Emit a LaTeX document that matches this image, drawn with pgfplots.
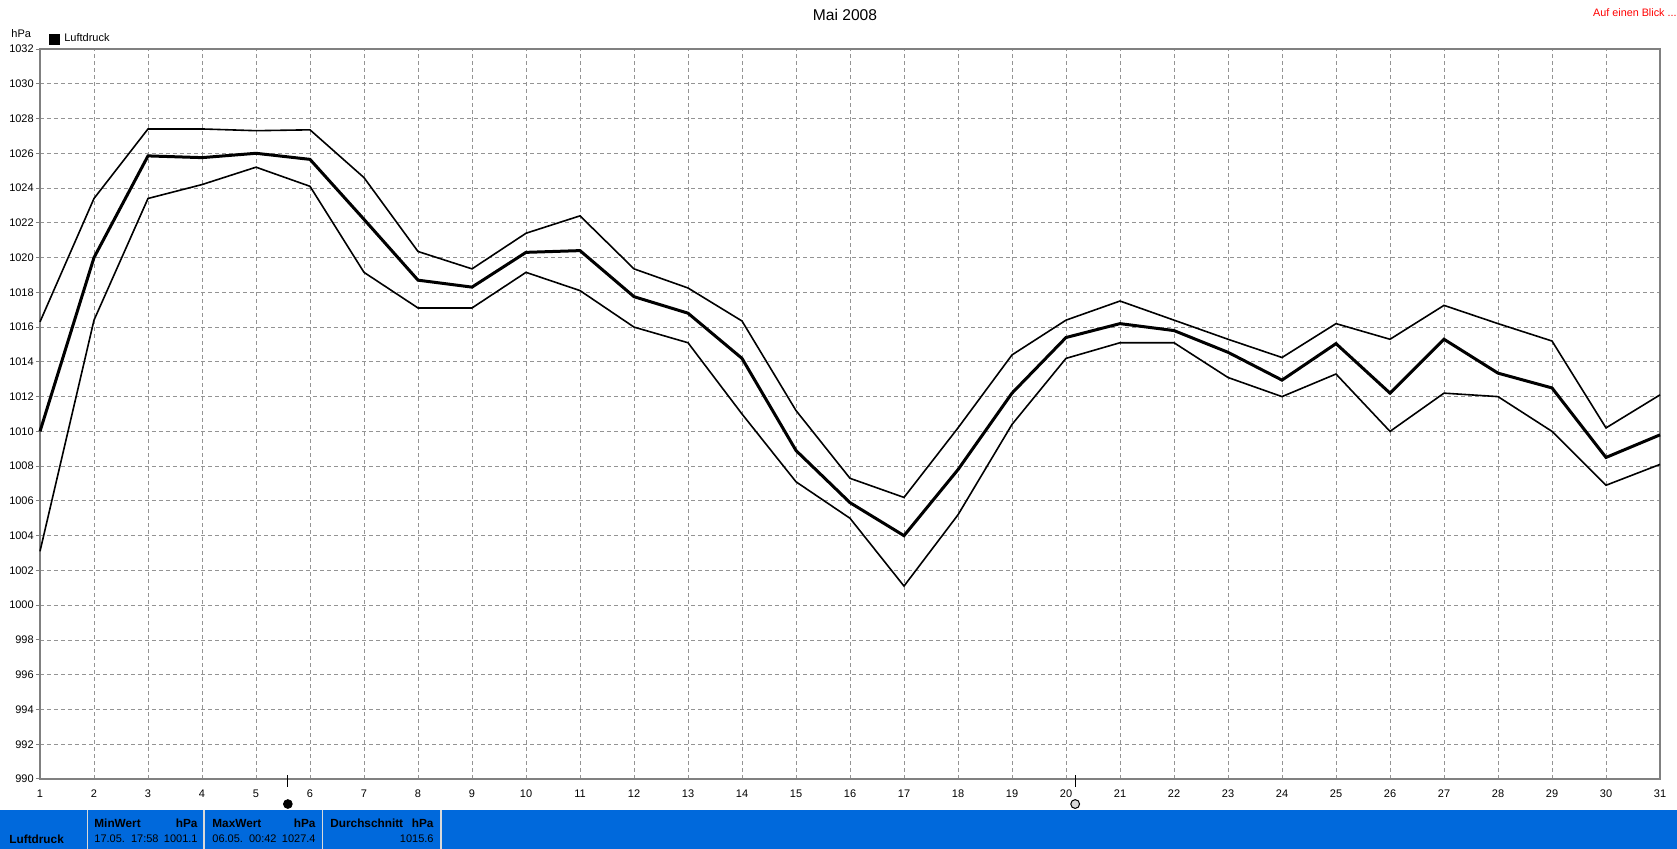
\documentclass[border=0pt]{standalone}
\usepackage{pgfplots}
\usepackage{pgfplotstable}
\usepackage{fontspec}
\setmainfont{Liberation Sans}
\pgfplotsset{compat=1.18}
\definecolor{barblue}{HTML}{0069DC}
\definecolor{axgray}{HTML}{808080}
\definecolor{gridgray}{HTML}{949494}

\pgfplotstableread{
day high mean low
1 1016.3 1010.0 1003.1
2 1023.4 1020.0 1016.4
3 1027.4 1025.85 1023.4
4 1027.4 1025.75 1024.2
5 1027.3 1026.0 1025.2
6 1027.35 1025.65 1024.1
7 1024.6 1022.2 1019.15
8 1020.35 1018.7 1017.1
9 1019.35 1018.3 1017.1
10 1021.4 1020.3 1019.15
11 1022.4 1020.4 1018.1
12 1019.35 1017.75 1016.0
13 1018.25 1016.8 1015.1
14 1016.35 1014.2 1011.0
15 1011.2 1008.9 1007.1
16 1007.3 1005.9 1005.0
17 1006.2 1004.0 1001.1
18 1010.2 1007.8 1005.2
19 1014.4 1012.2 1010.4
20 1016.4 1015.4 1014.2
21 1017.5 1016.2 1015.1
22 1016.4 1015.8 1015.1
23 1015.3 1014.55 1013.1
24 1014.25 1012.95 1012.0
25 1016.2 1015.05 1013.3
26 1015.3 1012.2 1010.0
27 1017.25 1015.3 1012.2
28 1016.2 1013.35 1012.0
29 1015.2 1012.5 1010.0
30 1010.2 1008.5 1006.9
31 1012.1 1009.8 1008.1
}\druck

% text in the bottom bar, positions in reference pixels
\newcommand{\barl}[3]{\node[anchor=west,inner sep=0pt] at (#1,#2) {\fontsize{5.5pt}{6pt}\selectfont #3};}
\newcommand{\barr}[3]{\node[anchor=east,inner sep=0pt] at (#1,#2) {\fontsize{5.5pt}{6pt}\selectfont #3};}
\newcommand{\bt}[1]{\fontsize{5.9pt}{6pt}\selectfont\textbf{#1}}

\begin{document}
\begin{tikzpicture}[x=0.5pt,y=-0.5pt]
\path (0,0) rectangle (1677,849);
\fill[barblue] (0,810) rectangle (1677,849);
\foreach \xx in {87.5,204,322.5,441} \fill[white!85!black] (\xx-0.8,810) rectangle (\xx+0.8,849);

\begin{axis}[
  at={(20pt,-389.5pt)},anchor=south west,
  scale only axis,width=810pt,height=365pt,
  xmin=1,xmax=31,ymin=990,ymax=1032,
  xtick={1,...,31},ytick={990,992,...,1032},
  clip=false,
  axis line style={draw=axgray,line width=1pt},
  tick align=outside,
  xtick style={draw=none},
  ytick style={draw=axgray,line width=0.5pt},
  tick pos=left,
  major tick length=2pt,
  grid=major,
  major grid style={draw=gridgray,line width=0.45pt,dash pattern=on 2.2pt off 1.3pt},
  ticklabel style={font=\fontsize{5.5pt}{6pt}\selectfont},
  /pgf/number format/assume math mode=true,
  /pgf/number format/1000 sep={},
  xticklabel style={yshift=0pt},
  yticklabel style={xshift=2.4pt},
  legend style={at={(rel axis cs:0.0055,1.0)},anchor=south west,draw=none,fill=none,inner sep=0pt,
    font=\fontsize{5.5pt}{6pt}\selectfont},
  legend image code/.code={\fill[black] (0.5pt,-2.1pt) rectangle (4.5pt,1.9pt);},
]
\addplot[black,line width=0.8pt,forget plot] table[x=day,y=high] {\druck};
\addplot[black,line width=0.8pt,forget plot] table[x=day,y=low] {\druck};
\addplot[black,line width=1.5pt] table[x=day,y=mean] {\druck};
\addlegendentry{Luftdruck}
% moon phase ticks and symbols under the axis
\addplot[black,line width=0.5pt,forget plot] coordinates {(5.59,990.23) (5.59,989.54)};
\addplot[black,line width=0.5pt,forget plot] coordinates {(20.17,990.23) (20.17,989.54)};
\addplot[only marks,mark=*,mark size=2.2pt,mark options={fill=black,draw=black},forget plot] coordinates {(5.59,988.56)};
\addplot[only marks,mark=*,mark size=2.2pt,mark options={fill=black!15,draw=black,line width=0.5pt},forget plot] coordinates {(20.17,988.56)};
\end{axis}

\node[inner sep=0pt] at (845,15) {\fontsize{7.8pt}{9pt}\selectfont Mai 2008};
\node[anchor=east,inner sep=0pt,text=red] at (1677,12.5) {\fontsize{5.4pt}{6pt}\selectfont Auf einen Blick ...};
\node[anchor=west,inner sep=0pt] at (11,34) {\fontsize{5.5pt}{6pt}\selectfont hPa};

\barl{9}{839}{\bt{Luftdruck}}
\barl{94}{823}{\bt{MinWert}}
\barr{198}{823}{\bt{hPa}}
\barl{94}{839}{17.05.\ \ 17:58}
\barr{198}{839}{1001.1}
\barl{212}{823}{\bt{MaxWert}}
\barr{316}{823}{\bt{hPa}}
\barl{212}{839}{06.05.\ \ 00:42}
\barr{316}{839}{1027.4}
\barl{330}{823}{\bt{Durchschnitt}}
\barr{434}{823}{\bt{hPa}}
\barr{434}{839}{1015.6}
\end{tikzpicture}
\end{document}
